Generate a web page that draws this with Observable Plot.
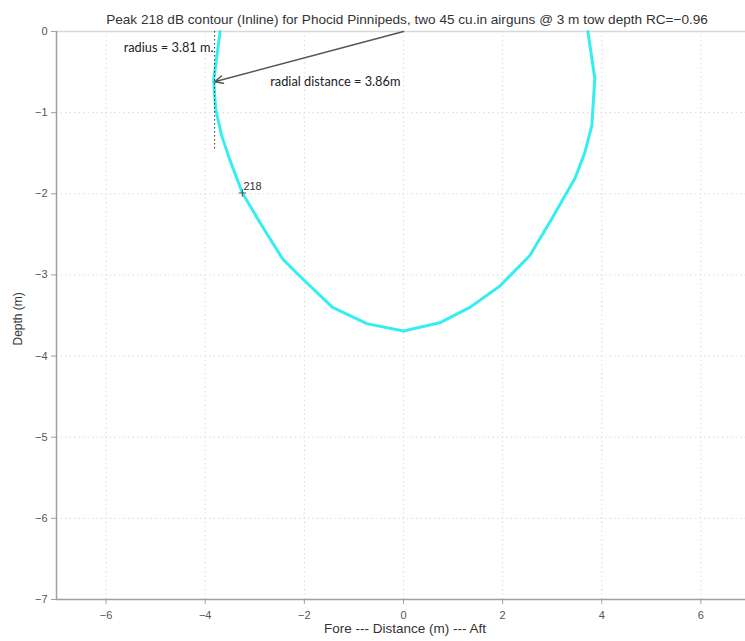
<!DOCTYPE html>
<html>
<head>
<meta charset="utf-8">
<script src="https://cdn.jsdelivr.net/npm/d3@7"></script>
<script src="https://cdn.jsdelivr.net/npm/@observablehq/plot@0.6"></script>
<style>
  html, body { margin: 0; padding: 0; background: #fff; }
  #chart svg { display: block; }
</style>
</head>
<body>
<div id="chart"></div>
<script>
// Peak 218 dB contour: fore/aft distance (m) and depth (m), traced from fore surface round to aft surface
const contourX     = [-3.70, -3.77, -3.83, -3.79, -3.67, -3.51, -3.25, -2.86, -2.44, -2.10, -1.43, -0.74, 0.00, 0.73, 1.34, 1.94, 2.55, 2.99, 3.46, 3.66, 3.80, 3.86, 3.72];
const contourDepth = [ 0.00, -0.33, -0.60, -0.95, -1.28, -1.57, -1.99, -2.39, -2.80, -3.01, -3.40, -3.60, -3.69, -3.59, -3.40, -3.14, -2.76, -2.31, -1.81, -1.49, -1.16, -0.58, 0.00];

// Contour level and its label position
const contourLevel = [218];
const levelLabelX = [-3.25];
const levelLabelDepth = [-1.99];

// Radius and radial distance of the contour (m)
const radius = [3.81];
const radialDistance = [3.86];
const radiusLineDepth = [0, -1.45];

// Axis ticks
const xTicks = [-6, -4, -2, 0, 2, 4, 6];
const yTicks = [0, -1, -2, -3, -4, -5, -6, -7];

const titleText = "Peak 218 dB contour (Inline) for Phocid Pinnipeds, two 45 cu.in airguns @ 3 m tow depth RC=\u22120.96";
const xLabel = "Fore --- Distance (m) --- Aft";
const yLabel = "Depth (m)";

const contour = contourX.map((x, i) => ({x, y: contourDepth[i]}));

// Radial arrow from the source at (0, 0) to the point on the contour at the stated radius
const arrowTipDepth = -Math.sqrt(radialDistance[0] ** 2 - radius[0] ** 2);
const arrows = [{x1: 0, y1: 0, x2: -radius[0], y2: arrowTipDepth}];

const labelFont = "Lato, 'Open Sans', sans-serif";
const fmt = d => (d < 0 ? "\u2212" : "") + Math.abs(d);

const chart = Plot.plot({
  width: 745,
  height: 641,
  marginLeft: 56,
  marginRight: 0,
  marginTop: 31,
  marginBottom: 42,
  style: {fontFamily: "'Liberation Sans', Arial, sans-serif", fontSize: "11px", color: "#444", background: "#fff"},
  x: {domain: [-7, 6.9], ticks: xTicks},
  y: {domain: [-7, 0], ticks: yTicks},
  marks: [
    Plot.gridX(xTicks, {stroke: "#dadada", strokeOpacity: 1, strokeDasharray: "1.5,3"}),
    Plot.gridY(yTicks, {stroke: "#dadada", strokeOpacity: 1, strokeDasharray: "1.5,3"}),
    Plot.ruleY([0], {stroke: "#d8d8d8", strokeWidth: 1.5}),
    Plot.ruleX([-7], {stroke: "#a0a0a0", strokeWidth: 1.5}),
    Plot.ruleY([-7], {stroke: "#a0a0a0", strokeWidth: 1.5}),
    Plot.axisX(xTicks, {tickSize: 5, tickPadding: 7, stroke: "#a0a0a0", fill: "#555", label: null, fontSize: 11, tickFormat: fmt}),
    Plot.axisY(yTicks, {tickSize: 5, tickPadding: 4, stroke: "#a0a0a0", fill: "#555", label: null, fontSize: 11, tickFormat: fmt}),
    // contour line
    Plot.line(contour, {x: "x", y: "y", stroke: "#36eef2", strokeWidth: 3, curve: "linear"}),
    // radius marker
    Plot.ruleX(radius.map(r => -r), {y1: radiusLineDepth[0], y2: radiusLineDepth[1], stroke: "#333", strokeWidth: 1, strokeDasharray: "1.5,2.5"}),
    Plot.text(radius, {x: d => -d, y: radiusLineDepth[0], text: d => `radius = ${d.toFixed(2)} m.`, textAnchor: "end", dx: -1, dy: 16, fontFamily: labelFont, fontSize: 12.8, fill: "#222"}),
    // radial distance arrow
    Plot.arrow(arrows, {x1: "x1", y1: "y1", x2: "x2", y2: "y2", stroke: "#555", strokeWidth: 1.5, headLength: 9, headAngle: 50, inset: 0}),
    Plot.text(radialDistance, {x: 0, y: arrowTipDepth, text: d => `radial distance = ${d.toFixed(2)}m`, textAnchor: "end", dx: -3, fontFamily: labelFont, fontSize: 12.8, fill: "#222"}),
    // contour level label
    Plot.dot(contourLevel, {x: levelLabelX, y: levelLabelDepth, symbol: "plus", r: 2.5, stroke: "#555", strokeWidth: 1}),
    Plot.text(contourLevel, {x: levelLabelX, y: levelLabelDepth, text: d => String(d), textAnchor: "start", dx: 1, dy: -7, fontSize: 11, fill: "#333"}),
    // title and axis labels
    Plot.text([titleText], {frameAnchor: "top", dx: 6, dy: -17, fontSize: 13.6, fill: "#333"}),
    Plot.text([xLabel], {frameAnchor: "bottom", dx: 4, dy: 33, fontSize: 13.5, fill: "#333"}),
    Plot.text([yLabel], {frameAnchor: "left", rotate: -90, dx: -38, dy: 30, fontSize: 12, fill: "#333"})
  ]
});

document.getElementById("chart").appendChild(chart);
</script>
</body>
</html>
